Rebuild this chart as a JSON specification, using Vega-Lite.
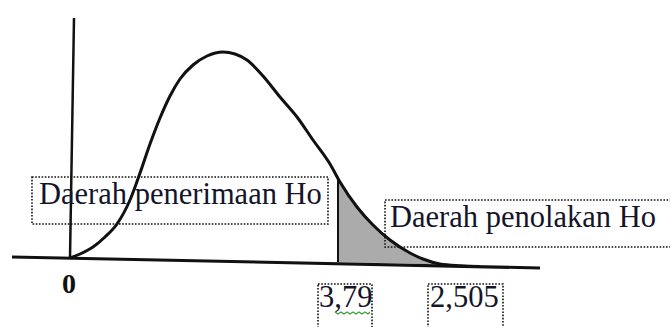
{
  "$schema": "https://vega.github.io/schema/vega-lite/v6.json",
  "width": 670,
  "height": 327,
  "padding": 0,
  "autosize": {"type": "fit", "contains": "padding"},
  "background": "white",
  "config": {"view": {"stroke": null}},
  "datasets": {
    "curve": [
      {"x": 70, "y": 258}, {"x": 80, "y": 254}, {"x": 93, "y": 247}, {"x": 105, "y": 237},
      {"x": 117, "y": 224}, {"x": 130, "y": 200}, {"x": 140, "y": 173}, {"x": 150, "y": 144},
      {"x": 160, "y": 118}, {"x": 170, "y": 96}, {"x": 180, "y": 79}, {"x": 193, "y": 65},
      {"x": 207, "y": 56}, {"x": 223, "y": 52}, {"x": 235, "y": 54}, {"x": 247, "y": 60},
      {"x": 263, "y": 76}, {"x": 280, "y": 97}, {"x": 297, "y": 117}, {"x": 313, "y": 140},
      {"x": 330, "y": 164}, {"x": 340, "y": 182}, {"x": 357, "y": 207}, {"x": 373, "y": 225},
      {"x": 390, "y": 240}, {"x": 410, "y": 253}, {"x": 423, "y": 259}, {"x": 440, "y": 264},
      {"x": 460, "y": 265.8}, {"x": 480, "y": 266.5}
    ],
    "shade": [
      {"x": 338, "y": 180, "y2": 262}, {"x": 345, "y": 191, "y2": 262.2},
      {"x": 357, "y": 207, "y2": 262.5}, {"x": 373, "y": 225, "y2": 262.8},
      {"x": 390, "y": 240, "y2": 263.2}, {"x": 410, "y": 253, "y2": 263.6},
      {"x": 423, "y": 259, "y2": 263.9}, {"x": 440, "y": 264, "y2": 264.3}
    ],
    "xaxis": [{"x": 12, "y": 257}, {"x": 540, "y": 268}],
    "yaxis": [{"x": 74, "y": 18}, {"x": 70, "y": 258}],
    "edge": [{"x": 338, "y": 180}, {"x": 338, "y": 262}],
    "boxes": [
      {"x": 32, "x2": 328, "y": 177, "y2": 224},
      {"x": 385, "x2": 690, "y": 200, "y2": 247},
      {"x": 318, "x2": 372, "y": 284, "y2": 340},
      {"x": 428, "x2": 503, "y": 284, "y2": 340}
    ],
    "labels": [
      {"x": 39, "y": 204, "label": "Daerah penerimaan Ho"},
      {"x": 390, "y": 227, "label": "Daerah penolakan Ho"},
      {"x": 319, "y": 307, "label": "3,79"},
      {"x": 430, "y": 307, "label": "2,505"}
    ],
    "zero": [{"x": 69, "y": 293, "label": "0"}],
    "squiggle": [
      {"x": 335, "y": 312}, {"x": 338, "y": 314}, {"x": 341, "y": 312}, {"x": 344, "y": 314},
      {"x": 347, "y": 312}, {"x": 350, "y": 314}, {"x": 353, "y": 312}, {"x": 356, "y": 314},
      {"x": 359, "y": 312}, {"x": 362, "y": 314}, {"x": 365, "y": 312}, {"x": 368, "y": 314},
      {"x": 370, "y": 312}
    ]
  },
  "encoding": {
    "x": {"field": "x", "type": "quantitative", "scale": {"domain": [0, 670], "nice": false, "zero": false}, "axis": null},
    "y": {"field": "y", "type": "quantitative", "scale": {"domain": [0, 327], "nice": false, "zero": false, "reverse": true}, "axis": null}
  },
  "layer": [
    {
      "data": {"name": "shade"},
      "mark": {"type": "area", "fill": "#ababab", "opacity": 1},
      "encoding": {"y2": {"field": "y2"}}
    },
    {
      "data": {"name": "edge"},
      "mark": {"type": "line", "color": "#111", "strokeWidth": 2},
      "encoding": {}
    },
    {
      "data": {"name": "yaxis"},
      "mark": {"type": "line", "color": "#111", "strokeWidth": 2.5},
      "encoding": {}
    },
    {
      "data": {"name": "xaxis"},
      "mark": {"type": "line", "color": "#111", "strokeWidth": 3},
      "encoding": {}
    },
    {
      "data": {"name": "curve"},
      "mark": {"type": "line", "color": "#111", "strokeWidth": 3, "interpolate": "monotone"},
      "encoding": {}
    },
    {
      "data": {"name": "boxes"},
      "mark": {"type": "rect", "fill": null, "stroke": "#111", "strokeWidth": 1.6, "strokeDash": [1.6, 1.6], "clip": true},
      "encoding": {"x2": {"field": "x2"}, "y2": {"field": "y2"}}
    },
    {
      "data": {"name": "labels"},
      "mark": {"type": "text", "font": "Liberation Serif", "fontSize": 30.5, "align": "left", "baseline": "alphabetic", "color": "#15152a"},
      "encoding": {"text": {"field": "label"}}
    },
    {
      "data": {"name": "zero"},
      "mark": {"type": "text", "font": "Liberation Serif", "fontSize": 28, "fontWeight": "bold", "align": "center", "baseline": "alphabetic", "color": "#111"},
      "encoding": {"text": {"field": "label"}}
    },
    {
      "data": {"name": "squiggle"},
      "mark": {"type": "line", "color": "#3c9a3c", "strokeWidth": 1.2},
      "encoding": {}
    }
  ]
}
